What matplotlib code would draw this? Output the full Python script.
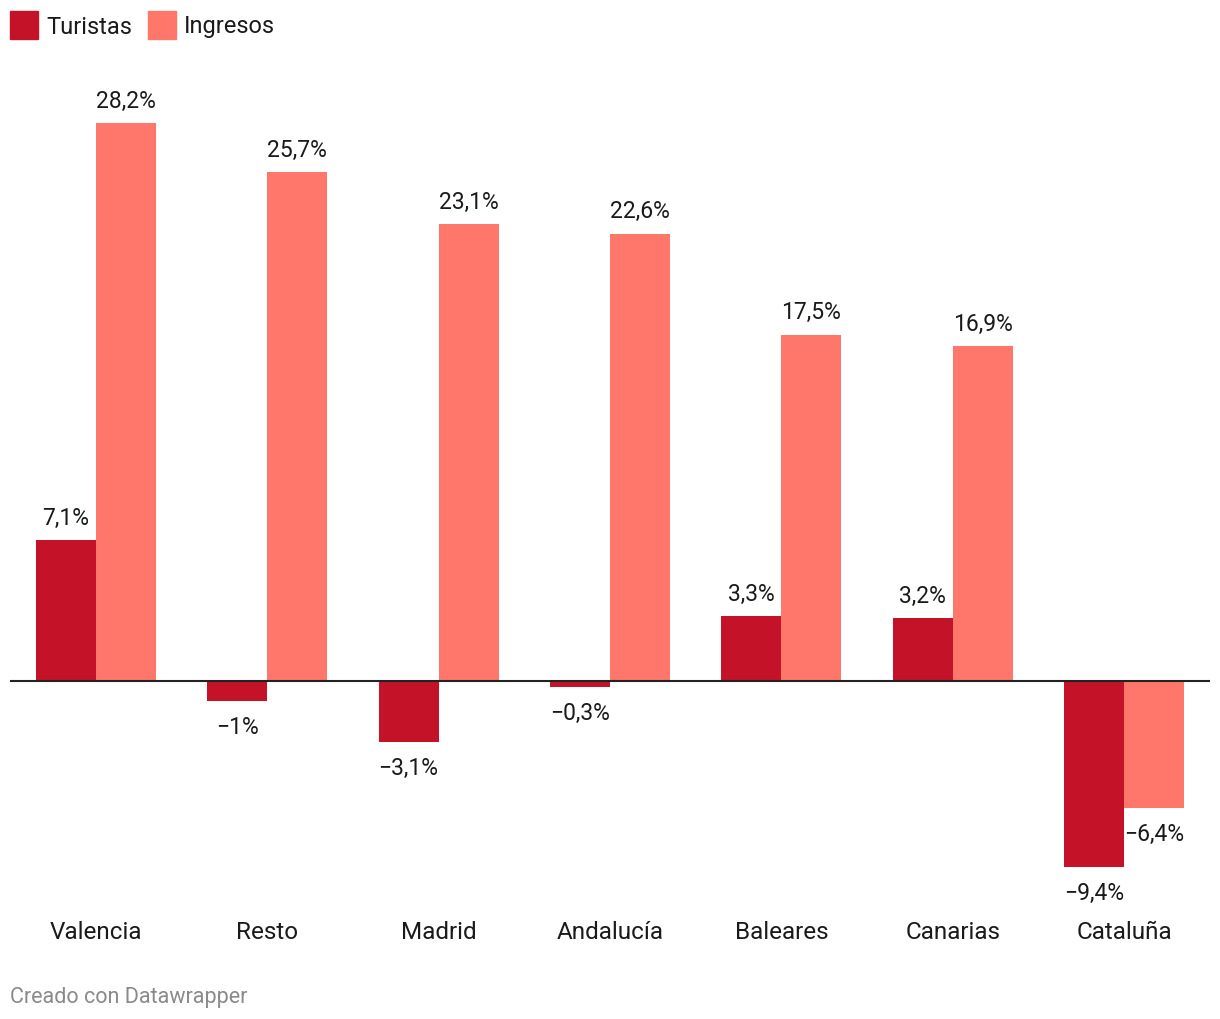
import matplotlib.pyplot as plt
from matplotlib.patches import Rectangle
import numpy as np

regiones = ["Valencia", "Resto", "Madrid", "Andalucía", "Baleares", "Canarias", "Cataluña"]
turistas = [7.1, -1.0, -3.1, -0.3, 3.3, 3.2, -9.4]
ingresos = [28.2, 25.7, 23.1, 22.6, 17.5, 16.9, -6.4]
etiquetas_turistas = ["7,1%", "−1%", "−3,1%", "−0,3%", "3,3%", "3,2%", "−9,4%"]
etiquetas_ingresos = ["28,2%", "25,7%", "23,1%", "22,6%", "17,5%", "16,9%", "−6,4%"]

col_tur = "#c41228"
col_ing = "#ff766b"
txt = "#1a1a1a"

plt.rcParams['font.family'] = ['Roboto', 'DejaVu Sans']

fig = plt.figure(figsize=(12.2, 10.2), dpi=100)
ax = fig.add_axes([10 / 1220, 1 - 880 / 1020, 1200 / 1220, 792 / 1020])

x = np.arange(len(regiones))
w = 60 / (1200 / 7)
ax.bar(x - w / 2, turistas, width=w, color=col_tur, label="Turistas")
ax.bar(x + w / 2, ingresos, width=w, color=col_ing, label="Ingresos")
ax.axhline(0, color="#222222", linewidth=1.5, zorder=3)

ax.set_xlim(-0.5, len(regiones) - 0.5)
ax.set_ylim(-10, 30)
ax.axis("off")

# etiquetas de valores
def etiquetar(xs, vals, labs):
    for xi, v, lab in zip(xs, vals, labs):
        if v >= 0:
            ax.annotate(lab, (xi, v), xytext=(0, 8), textcoords="offset points",
                        ha="center", va="bottom", fontsize=16.5, color=txt)
        else:
            ax.annotate(lab, (xi, v), xytext=(0, -10), textcoords="offset points",
                        ha="center", va="top", fontsize=16.5, color=txt)

etiquetar(x - w / 2, turistas, etiquetas_turistas)
etiquetar(x + w / 2, ingresos, etiquetas_ingresos)

# nombres de regiones
for xi, r in zip(x, regiones):
    ax.text(xi, -0.066, r, transform=ax.get_xaxis_transform(), ha="center", va="center",
            fontsize=17.5, color=txt)

# leyenda
fig.patches.append(Rectangle((10 / 1220, 1 - 40 / 1020), 28 / 1220, 28 / 1020,
                             transform=fig.transFigure, color=col_tur))
fig.text(46 / 1220, 1 - 27 / 1020, "Turistas", fontsize=17, color=txt, va="center")
fig.patches.append(Rectangle((148 / 1220, 1 - 40 / 1020), 28 / 1220, 28 / 1020,
                             transform=fig.transFigure, color=col_ing))
fig.text(184 / 1220, 1 - 27 / 1020, "Ingresos", fontsize=17, color=txt, va="center")

fig.text(10 / 1220, 1 - 998 / 1020, "Creado con Datawrapper", fontsize=15.5,
         color="#8a8a8a", va="center")

plt.savefig("out.png", dpi=100, facecolor="white")
